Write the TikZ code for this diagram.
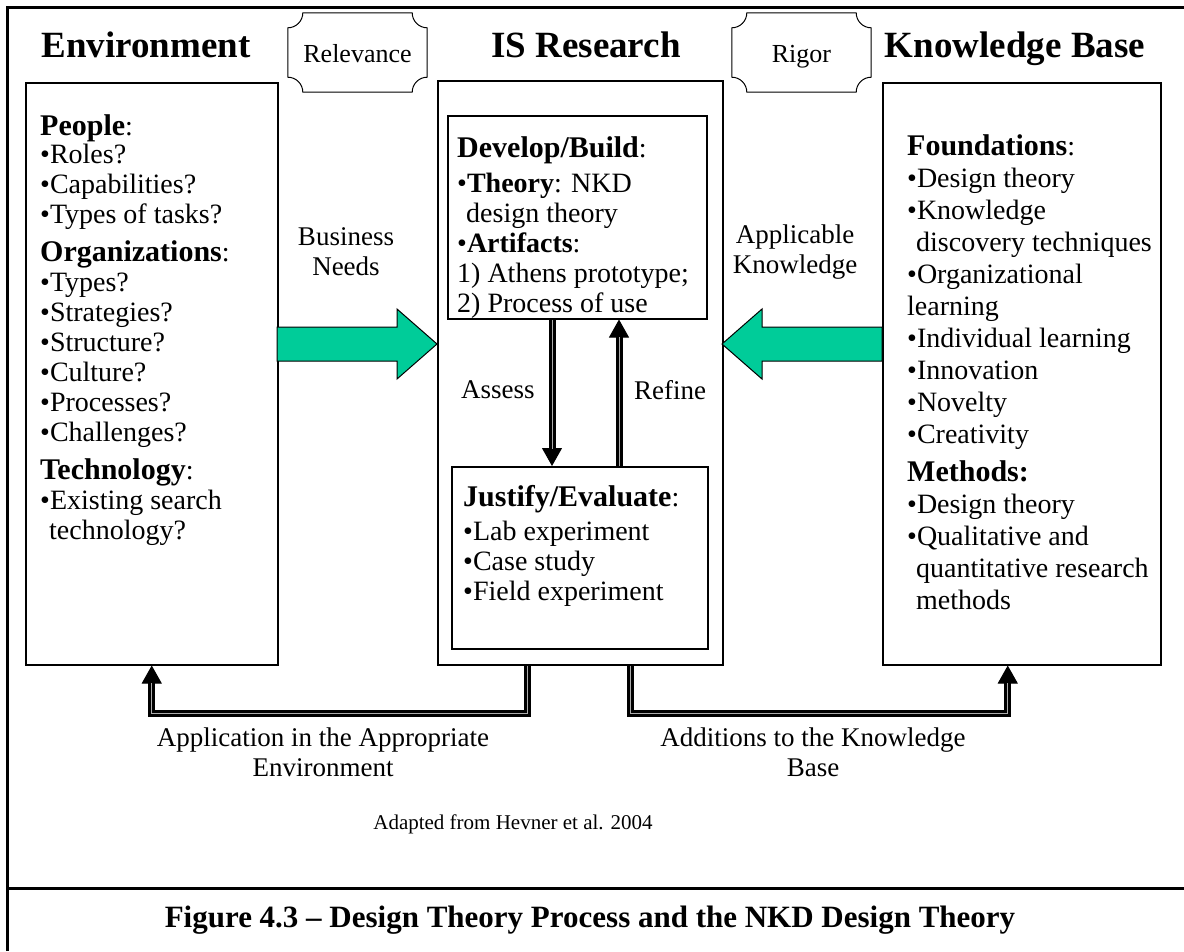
\documentclass[tikz,border=0pt]{standalone}
\usepackage{fontspec}
\setmainfont{Liberation Serif}
\usetikzlibrary{arrows.meta,calc}
\definecolor{flowgreen}{RGB}{0,204,153}

% frame with concave (ticket-style) corners around a node
\newcommand\ticketframe[1]{%
  \draw[ticket]
    ($(#1.north west)+(15,0)$) -- ($(#1.north east)+(-15,0)$)
    .. controls +(0,8.25) and +(-8.25,0) .. ($(#1.north east)+(0,15)$)
    -- ($(#1.south east)+(0,-15)$)
    .. controls +(-8.25,0) and +(0,-8.25) .. ($(#1.south east)+(-15,0)$)
    -- ($(#1.south west)+(15,0)$)
    .. controls +(0,-8.25) and +(8.25,0) .. ($(#1.south west)+(0,-15)$)
    -- ($(#1.north west)+(0,15)$)
    .. controls +(8.25,0) and +(0,8.25) .. ($(#1.north west)+(15,0)$) -- cycle;}

\begin{document}
\begin{tikzpicture}[x=1pt,y=-1pt,
  box/.style={draw, line width=1.5pt, inner sep=0pt, anchor=north west},
  ttl/.style={font=\fontsize{37}{40}\selectfont\bfseries, inner sep=0pt, anchor=base},
  body/.style={font=\fontsize{28}{30}\selectfont, align=left, inner sep=0pt, anchor=north west},
  lbl/.style={font=\fontsize{27}{30}\selectfont, align=center, inner sep=0pt},
  dbl/.style={draw=black, line width=3pt, double=gray!65, double distance=1pt},
  tipline/.style={line width=1pt, -{Triangle[width=20pt,length=18pt]}},
  blockarrow/.style={draw=black, line width=1pt, fill=flowgreen, line join=miter},
  ticket/.style={draw, line width=1pt},
  tag/.style={inner sep=0pt, minimum width=139pt, minimum height=79pt},
  tagtext/.style={inner sep=0pt, anchor=base, font=\fontsize{26}{28}\selectfont},
]
\newcommand\hd[1]{{\fontsize{30}{30}\selectfont\bfseries #1}}
\useasboundingbox (0,0) rectangle (1184,951);

% outer frame
\draw[line width=3pt] (7,951) -- (7,7) -- (1184,7);
\draw[line width=3pt] (7,888) -- (1184,888);

% column titles
\node[ttl] (tenv) at (146,57) {Environment};
\node[ttl] (tis)  at (586,57) {IS Research};
\node[ttl] (tkb)  at (1015,57) {Knowledge Base};

% relevance / rigor tags
\node[tag] (rel) at (357.5,52.5) {};
\node[tag] (rig) at (801.5,52.5) {};
\ticketframe{rel}
\ticketframe{rig}
\node[tagtext] (reltext) at (357.5,62) {Relevance};
\node[tagtext] (rigtext) at (801.5,62) {Rigor};

% main boxes
\node[box, minimum width=252pt, minimum height=582pt] (env) at (25,82) {};
\node[box, minimum width=285pt, minimum height=584pt] (is)  at (437,80) {};
\node[box, minimum width=278pt, minimum height=582pt] (kb)  at (882,82) {};
\node[box, minimum width=259pt, minimum height=203pt] (dev) at (447,115) {};
\node[box, minimum width=256pt, minimum height=182pt] (jus) at (451,466) {};

% box contents
\node[body] (envtext) at (40,114) {%
\hd{People}:\\[-2pt]
•Roles?\\
•Capabilities?\\
•Types of tasks?\\[8pt]
\hd{Organizations}:\\
•Types?\\
•Strategies?\\
•Structure?\\
•Culture?\\
•Processes?\\
•Challenges?\\[8pt]
\hd{Technology}:\\
•Existing search\\
\hspace*{9pt}technology?};

\node[body] (devtext) at (457,136) {%
\hd{Develop/Build}:\\[5pt]
•\textbf{Theory}: NKD\\
\hspace*{9pt}design theory\\
•\textbf{Artifacts}:\\
1) Athens prototype;\\
2) Process of use};

\node[body] (justext) at (463,485) {%
\hd{Justify/Evaluate}:\\[4pt]
•Lab experiment\\
•Case study\\
•Field experiment};

\node[body, font=\fontsize{28}{32}\selectfont] (kbtext) at (907,134) {%
\hd{Foundations}:\\
•Design theory\\
•Knowledge\\
\hspace*{9pt}discovery techniques\\
•Organizational\\
learning\\
•Individual learning\\
•Innovation\\
•Novelty\\
•Creativity\\[6pt]
\hd{Methods:}\\
•Design theory\\
•Qualitative and\\
\hspace*{9pt}quantitative research\\
\hspace*{9pt}methods};

% flow arrows between the columns
\draw[blockarrow] (277,327) -- (397,327) -- (397,309) -- (437,344) -- (397,379) -- (397,361) -- (277,361) -- cycle;
\draw[blockarrow] (882,327) -- (762,327) -- (762,309) -- (722,344) -- (762,379) -- (762,361) -- (882,361) -- cycle;
\node[lbl] (needs) at (346,252) {Business\\Needs};
\node[lbl] (appk)  at (795,252) {Applicable\\Knowledge};

% build / evaluate loop
\draw[tipline] (dev.south -| 552,0) -- (jus.north -| 552,0);
\draw[dbl, shorten >=17pt] (dev.south -| 552,0) -- (jus.north -| 552,0);
\draw[tipline] (jus.north -| 619,0) -- (dev.south -| 619,0);
\draw[dbl, shorten >=17pt] (jus.north -| 619,0) -- (dev.south -| 619,0);
\node[lbl] (assess) at (498,390) {Assess};
\node[lbl] (refine) at (670,390) {Refine};

% feedback to environment and knowledge base
\draw[tipline] ([xshift=-52.5pt]is.south) -- ++(0,48) -| (env.south);
\draw[dbl, shorten >=17pt] ([xshift=-52.5pt]is.south) -- ++(0,48) -| (env.south);
\draw[tipline] ([xshift=50.5pt]is.south) -- ++(0,48) -| ([xshift=-14pt]kb.south);
\draw[dbl, shorten >=17pt] ([xshift=50.5pt]is.south) -- ++(0,48) -| ([xshift=-14pt]kb.south);
\node[lbl] (apply) at (323,752) {Application in the Appropriate\\Environment};
\node[lbl] (add)   at (813,752) {Additions to the Knowledge\\Base};

\node[lbl, font=\fontsize{21}{24}\selectfont] (src) at (513,824) {Adapted from Hevner et al. 2004};
\node[inner sep=0pt, font=\fontsize{31}{33}\selectfont\bfseries] (cap) at (590,920) {Figure 4.3 – Design Theory Process and the NKD Design Theory};
\end{tikzpicture}
\end{document}
